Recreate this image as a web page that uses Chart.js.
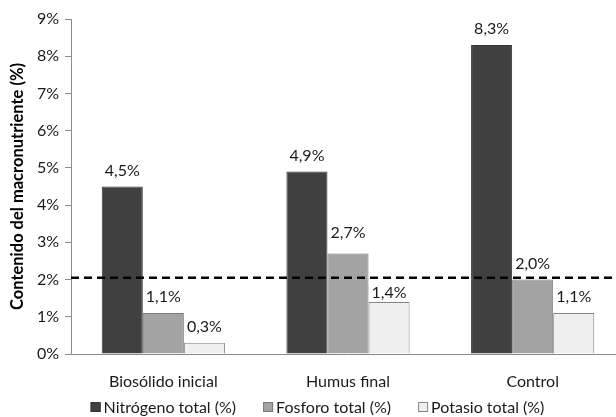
<!DOCTYPE html>
<html>
<head>
<meta charset="utf-8">
<script src="https://cdn.jsdelivr.net/npm/chart.js@4"></script>
<style>
html,body{margin:0;padding:0;background:#fff;overflow:hidden;width:616px;height:417px;}
#wrap{position:relative;width:630px;height:417px;}
</style>
</head>
<body>
<div id="wrap"><canvas id="c" width="630" height="417"></canvas></div>
<script>
const categories = ['Biosólido inicial', 'Humus final', 'Control'];
const seriesNames = ['Nitrógeno total (%)', 'Fosforo total (%)', 'Potasio total (%)'];
const nitrogeno = [4.5, 4.9, 8.3];
const fosforo = [1.1, 2.7, 2.0];
const potasio = [0.3, 1.4, 1.1];
const referenceLevel = 2.05;
const yTicks = [0, 1, 2, 3, 4, 5, 6, 7, 8, 9];

const FONT = 'Lato, "Open Sans", sans-serif';
const fills = ['#404040', '#a3a3a3', '#efefef'];
const borders = ['#363636', '#7a7a7a', '#858585'];
const textColor = '#1a1a1a';

const fmt = v => v.toFixed(1).replace('.', ',') + '%';

const labelPlugin = {
  id: 'barLabels',
  afterDatasetsDraw(chart) {
    const ctx = chart.ctx;
    ctx.save();
    ctx.font = '16px ' + FONT;
    ctx.fillStyle = textColor;
    ctx.textAlign = 'center';
    ctx.textBaseline = 'middle';
    chart.data.datasets.forEach((ds, di) => {
      const meta = chart.getDatasetMeta(di);
      if (meta.type !== 'bar') return;
      meta.data.forEach((bar, i) => {
        let off = 16;
        if (di === 2 && i === 1) off = 9;
        if (di === 1 && i === 1) off = 21;
        ctx.fillText(fmt(ds.data[i]), bar.x, bar.y - off);
      });
    });
    ctx.restore();
  }
};

const refLinePlugin = {
  id: 'refLine',
  afterDatasetsDraw(chart) {
    const ctx = chart.ctx, a = chart.chartArea;
    const y = chart.scales.y.getPixelForValue(referenceLevel);
    ctx.save();
    ctx.strokeStyle = '#000';
    ctx.lineWidth = 2.5;
    ctx.setLineDash([8, 5]);
    ctx.beginPath();
    ctx.moveTo(a.left, y);
    ctx.lineTo(chart.width, y);
    ctx.stroke();
    ctx.restore();
  }
};

const legendPlugin = {
  id: 'customLegend',
  afterDraw(chart) {
    const ctx = chart.ctx;
    ctx.save();
    ctx.font = '16px ' + FONT;
    ctx.textBaseline = 'middle';
    ctx.textAlign = 'left';
    const box = 10, gapBox = 3, gapItem = 27;
    const widths = seriesNames.map(n => box + gapBox + ctx.measureText(n).width);
    const total = widths.reduce((a, b) => a + b, 0) + gapItem * (seriesNames.length - 1);
    let x = 317.5 - total / 2;
    const y = 407;
    seriesNames.forEach((n, i) => {
      ctx.fillStyle = fills[i];
      ctx.strokeStyle = borders[i];
      ctx.lineWidth = 1;
      ctx.fillRect(x, y - box / 2, box, box);
      ctx.strokeRect(x + 0.5, y - box / 2 + 0.5, box - 1, box - 1);
      ctx.fillStyle = textColor;
      ctx.fillText(n, x + box + gapBox, y + 1);
      x += widths[i] + gapItem;
    });
    ctx.restore();
  }
};

const datasetsData = [nitrogeno, fosforo, potasio];
new Chart(document.getElementById('c'), {
  type: 'bar',
  data: {
    labels: categories,
    datasets: datasetsData.map((d, i) => ({
      label: seriesNames[i],
      data: d,
      backgroundColor: fills[i],
      borderColor: borders[i],
      borderWidth: 1,
      categoryPercentage: 0.667,
      barPercentage: 1
    }))
  },
  options: {
    responsive: false,
    animation: false,
    devicePixelRatio: 1,
    layout: { padding: { top: 19, right: 5, bottom: 0, left: 0 } },
    plugins: { legend: { display: false }, tooltip: { enabled: false } },
    scales: {
      x: {
        grid: { display: false, drawTicks: false },
        border: { color: '#8a8a8a', width: 1 },
        ticks: { color: textColor, font: { family: FONT, size: 16 }, padding: 18 },
        afterFit(s) { s.height = 63; }
      },
      y: {
        min: 0, max: 9,
        afterBuildTicks(s) { s.ticks = yTicks.map(v => ({ value: v })); },
        grid: { drawOnChartArea: false, drawTicks: true, tickLength: 6, color: '#8a8a8a' },
        border: { color: '#8a8a8a', width: 1 },
        ticks: { color: textColor, font: { family: FONT, size: 16 }, padding: 6, callback: v => v + '%' },
        title: { display: true, text: 'Contenido del macronutriente (%)', color: '#000', font: { family: FONT, size: 16.5, weight: 'bold' }, padding: { top: 8, bottom: 4 } },
        afterFit(s) { s.width = 71; }
      }
    }
  },
  plugins: [labelPlugin, refLinePlugin, legendPlugin]
});
</script>
</body>
</html>
